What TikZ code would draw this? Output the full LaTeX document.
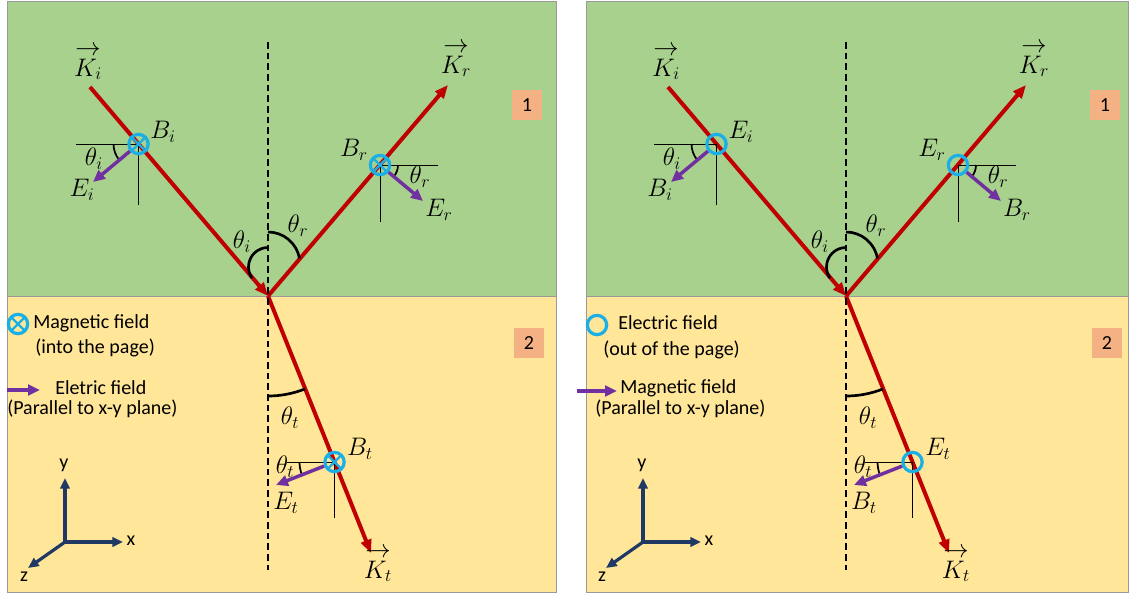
\RequirePackage{fix-cm}
\documentclass[tikz,border=0pt]{standalone}
\usepackage{fontspec}
\usepackage{tikz}
\usetikzlibrary{arrows.meta}
\newfontfamily\calibri{Carlito}
\definecolor{upfill}{HTML}{A9D18E}
\definecolor{downfill}{HTML}{FFE699}
\definecolor{panelstroke}{HTML}{9A9A9A}
\definecolor{raycol}{HTML}{C00000}
\definecolor{fieldcol}{HTML}{7030A0}
\definecolor{ringcol}{HTML}{1AAFE6}
\definecolor{axiscol}{HTML}{1F3864}
\definecolor{tagfill}{HTML}{F4B183}
\tikzset{
  ray/.style={draw=raycol, line width=3pt, -{Triangle[length=10pt,width=8pt]}},
  fieldarrow/.style={draw=fieldcol, line width=2.6pt,
                     -{Triangle[length=9pt,width=8pt]}},
  axisarrow/.style={draw=axiscol, line width=2.4pt,
                    -{Triangle[length=8pt,width=7pt]}},
  guide/.style={draw=black, line width=0.7pt},
  bigarc/.style={draw=black, line width=2pt},
  smallarc/.style={draw=black, line width=1.3pt},
  normalline/.style={draw=black, line width=2pt, dash pattern=on 5pt off 3pt},
  ring/.style={circle, draw=ringcol, line width=2.4pt, minimum size=14.5pt,
               inner sep=0pt},
  crossring/.style={ring, path picture={
      \draw[ringcol, line width=1.7pt]
        (path picture bounding box.north west) -- (path picture bounding box.south east)
        (path picture bounding box.north east) -- (path picture bounding box.south west);}},
  lbl/.style={font=\fontsize{19}{22}\selectfont, inner sep=1pt},
  veclbl/.style={lbl, align=center},
  txt/.style={font=\calibri\fontsize{15}{18}\selectfont, inner sep=0pt, anchor=west},
  axlbl/.style={font=\calibri\fontsize{15}{18}\selectfont, inner sep=0pt},
  regiontag/.style={fill=tagfill, minimum size=22pt, inner sep=0pt,
                    font=\calibri\fontsize{15}{18}\selectfont}
}
% one half of the figure: #1 name prefix, #2 ring style,
% #3 letter at the ring, #4 letter at the purple arrow
\newcommand{\drawhalf}[4]{%
  % --- rays ---
  \coordinate (#1-O) at (268,296);
  \coordinate (#1-is) at (90,87);
  \coordinate (#1-re) at (448,85);
  \coordinate (#1-te) at (371,553);
  \draw[ray] (#1-is) -- (#1-O);
  \draw[ray] (#1-O) -- (#1-re);
  \draw[ray] (#1-O) -- (#1-te);
  % --- normal ---
  \coordinate (#1-nt) at (268,42);
  \coordinate (#1-nb) at (268,570);
  \draw[normalline] (#1-nt) -- (#1-nb);
  % --- angles at the interface ---
  \draw[bigarc] (268,247.5) arc[start angle=270, end angle=145, radius=19.5];
  \draw[bigarc] (268,232) arc[start angle=270, end angle=350, radius=32];
  \draw[bigarc] (#1-O) ++(90:100) arc[start angle=90, end angle=68.3, radius=100];
  \node[lbl] (#1-thi) at (242,242) {$\theta_i$};
  \node[lbl] (#1-thr) at (298,226) {$\theta_r$};
  \node[lbl] (#1-tht) at (290,418) {$\theta_t$};
  % --- incident wave ---
  \coordinate (#1-pi) at (138.5,144);
  \coordinate (#1-ih) at (76,144);
  \coordinate (#1-iv) at (138.5,205);
  \coordinate (#1-ai) at (93,182);
  \draw[guide] (#1-ih) -- (#1-pi) -- (#1-iv);
  \draw[smallarc] (#1-pi) ++(180:25) arc[start angle=180, end angle=140, radius=25];
  \node[#2] (#1-ci) at (#1-pi) {};
  \draw[fieldarrow] (#1-ci) -- (#1-ai);
  \node[veclbl] (#1-Ki) at (88,63) {$\rightarrow$\\[-6.6pt]$K_i$};
  \node[lbl] (#1-ri) at (163,132) {$#3_i$};
  \node[lbl] (#1-si) at (94,159) {$\theta_i$};
  \node[lbl] (#1-fi) at (82,190) {$#4_i$};
  % --- reflected wave ---
  \coordinate (#1-pr) at (380,165);
  \coordinate (#1-rh) at (438,165);
  \coordinate (#1-rv) at (380,222);
  \coordinate (#1-ar) at (423,201);
  \draw[guide] (#1-rh) -- (#1-pr) -- (#1-rv);
  \draw[smallarc] (#1-pr) ++(0:18) arc[start angle=0, end angle=40, radius=18];
  \node[#2] (#1-cr) at (#1-pr) {};
  \draw[fieldarrow] (#1-cr) -- (#1-ar);
  \node[veclbl] (#1-Kr) at (456,60) {$\rightarrow$\\[-6.6pt]$K_r$};
  \node[lbl] (#1-rr) at (354,150) {$#3_r$};
  \node[lbl] (#1-sr) at (420,177) {$\theta_r$};
  \node[lbl] (#1-fr) at (439,210) {$#4_r$};
  % --- transmitted wave ---
  \coordinate (#1-pt) at (334.5,462);
  \coordinate (#1-th) at (287,462);
  \coordinate (#1-tv) at (334.5,518);
  \coordinate (#1-at) at (276,485);
  \draw[guide] (#1-th) -- (#1-pt) -- (#1-tv);
  \draw[smallarc] (#1-pt) ++(180:35) arc[start angle=180, end angle=158.3, radius=35];
  \node[#2] (#1-ct) at (#1-pt) {};
  \draw[fieldarrow] (#1-ct) -- (#1-at);
  \node[veclbl] (#1-Kt) at (378,565) {$\rightarrow$\\[-6.6pt]$K_t$};
  \node[lbl] (#1-rt) at (360,449) {$#3_t$};
  \node[lbl] (#1-st) at (285,467) {$\theta_t$};
  \node[lbl] (#1-ft) at (286,503) {$#4_t$};
  % --- region tags ---
  \node[regiontag] (#1-one) at (527,105) {1};
  \node[regiontag] (#1-two) at (529,343) {2};
  % --- axes ---
  \coordinate (#1-org) at (65,542);
  \coordinate (#1-xt) at (123,542);
  \coordinate (#1-yt) at (65,478);
  \coordinate (#1-zt) at (28,568);
  \draw[axisarrow] (#1-org) -- (#1-xt);
  \draw[axisarrow] (#1-org) -- (#1-yt);
  \draw[axisarrow] (#1-org) -- (#1-zt);
  \node[axlbl] (#1-xl) at (131,541) {x};
  \node[axlbl] (#1-yl) at (64,465) {y};
  \node[axlbl] (#1-zl) at (24,577) {z};
}

\begin{document}
\begin{tikzpicture}[x=0.75pt, y=-0.75pt]
  \useasboundingbox (0,0) rectangle (1130,594);

  % --- panels ---
  \fill[upfill] (7,1) rectangle (556,296);
  \fill[downfill] (7,296) rectangle (556,592);
  \fill[upfill] (586,1) rectangle (1128,296);
  \fill[downfill] (586,296) rectangle (1128,592);
  \draw[panelstroke] (7,296) -- (556,296);
  \draw[panelstroke] (586,296) -- (1128,296);
  \draw[panelstroke] (7,1) rectangle (556,592);
  \draw[panelstroke] (586,1) rectangle (1128,592);

  % --- left: B into the page ---
  \drawhalf{L}{crossring}{B}{E}
  \node[crossring] (L-key) at (18,324) {};
  \node[txt] (L-keyt) at (33,323) {Magnetic field};
  \node[txt] (L-keys) at (35,348) {(into the page)};
  \coordinate (L-ka) at (7,390);
  \coordinate (L-kb) at (40,390);
  \draw[fieldarrow] (L-ka) -- (L-kb);
  \node[txt] (L-arrt) at (55,388) {Eletric field};
  \node[txt] (L-arrs) at (7,409) {(Parallel to x-y plane)};

  % --- right: E out of the page ---
  \begin{scope}[shift={(578,0)}]
    \drawhalf{R}{ring}{E}{B}
  \end{scope}
  \node[ring] (R-key) at (597,325) {};
  \node[txt] (R-keyt) at (618,323) {Electric field};
  \node[txt] (R-keys) at (603,350) {(out of the page)};
  \coordinate (R-ka) at (577,391);
  \coordinate (R-kb) at (617,391);
  \draw[fieldarrow] (R-ka) -- (R-kb);
  \node[txt] (R-arrt) at (620,388) {Magnetic field};
  \node[txt] (R-arrs) at (595,409) {(Parallel to x-y plane)};

\end{tikzpicture}
\end{document}
